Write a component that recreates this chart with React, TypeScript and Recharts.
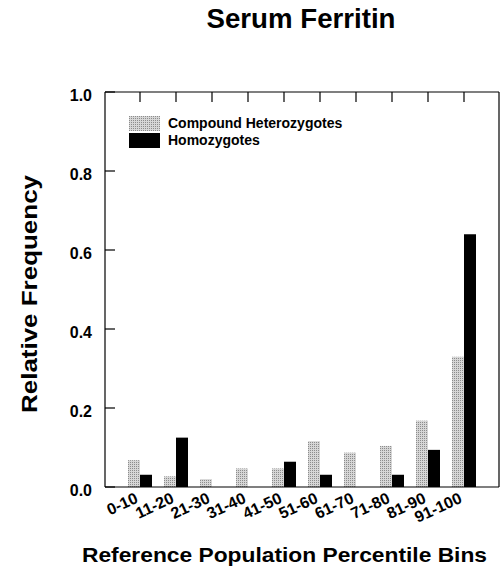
import { BarChart, Bar, XAxis, YAxis, Legend, Label } from "recharts";

const BINS = ["0-10", "11-20", "21-30", "31-40", "41-50", "51-60", "61-70", "71-80", "81-90", "91-100"];
const COMPOUND_HET = [0.068, 0.027, 0.02, 0.047, 0.047, 0.116, 0.087, 0.104, 0.168, 0.33];
const HOMOZYGOTES = [0.031, 0.125, 0, 0, 0.064, 0.031, 0, 0.031, 0.094, 0.64];
const Y_TICKS = [0, 0.2, 0.4, 0.6, 0.8, 1.0];

const TITLE = "Serum Ferritin";
const X_TITLE = "Reference Population Percentile Bins";
const Y_TITLE = "Relative Frequency";

const data = BINS.map((bin, i) => ({ bin, het: COMPOUND_HET[i], homo: HOMOZYGOTES[i] }));

const FONT = "'Liberation Sans', Arial, sans-serif";
const GREY = "url(#stipple)";

// left axis: label plus an inward tick
function YTick({ x, y, payload }: any) {
  return (
    <g>
      <line x1={x + 13} x2={x + 23} y1={y} y2={y} stroke="#000" strokeWidth={1.2} />
      <text x={x} y={y} dy={9} textAnchor="end" fontSize={16} fontWeight={700} fontFamily={FONT} fill="#000">
        {Number(payload.value).toFixed(1)}
      </text>
    </g>
  );
}

// right axis: inward tick only
function RightTick({ x, y }: any) {
  return <line x1={x - 11} x2={x} y1={y} y2={y} stroke="#000" strokeWidth={1.2} />;
}

// top axis: inward tick only
function TopTick({ x, y }: any) {
  return <line x1={x} x2={x} y1={y} y2={y + 10} stroke="#000" strokeWidth={1.2} />;
}

function XTick({ x, y, payload }: any) {
  const tx = x - 1;
  return (
    <text x={tx} y={y} textAnchor="end" transform={`rotate(-25 ${tx} ${y})`}
      fontSize={16} fontWeight={700} fontFamily={FONT} fill="#000">
      {payload.value}
    </text>
  );
}

function LegendBox({ payload }: any) {
  return (
    <div style={{ fontFamily: FONT, fontSize: 14, fontWeight: 700, color: "#000" }}>
      {(payload ?? []).map((p: any) => (
        <div key={p.value} style={{ display: "flex", alignItems: "center", height: 17 }}>
          <svg width={31} height={15} style={{ display: "block" }}>
            <rect width={31} height={15} fill={p.color} />
          </svg>
          <span style={{ marginLeft: 8, lineHeight: "17px" }}>{p.value}</span>
        </div>
      ))}
    </div>
  );
}

export default function App() {
  return (
    <div style={{ position: "absolute", left: 0, top: 0, background: "#fff" }}>
      <BarChart width={503} height={575} data={data} barGap={0} barSize={12}
        margin={{ top: 62, right: 0, bottom: 0, left: 0 }}>
        <defs>
          <pattern id="stipple" width={2} height={2} patternUnits="userSpaceOnUse">
            <rect width={2} height={2} fill="#d6d6d6" />
            <rect width={1} height={1} fill="#8c8c8c" />
          </pattern>
        </defs>

        <XAxis xAxisId="top" orientation="top" dataKey="bin" height={30} padding={{ left: 17, right: 17 }}
          interval={0} tick={<TopTick />} tickLine={false} tickSize={0} tickMargin={0}
          axisLine={{ stroke: "#000", strokeWidth: 1.2 }}>
          <Label content={() => (
            <text x={301} y={28} textAnchor="middle" fontSize={28} fontWeight={700} fontFamily={FONT}
              textLength={189} lengthAdjust="spacingAndGlyphs" fill="#000">{TITLE}</text>
          )} />
        </XAxis>
        <XAxis xAxisId="bottom" dataKey="bin" height={88} padding={{ left: 17, right: 17 }}
          tickLine={false} tickSize={6} tickMargin={9} interval={0} tick={<XTick />}
          axisLine={{ stroke: "#000", strokeWidth: 1.2 }}>
          <Label content={() => (
            <text x={284.5} y={562} textAnchor="middle" fontSize={21} fontWeight={700} fontFamily={FONT}
              textLength={405} lengthAdjust="spacingAndGlyphs" fill="#000">{X_TITLE}</text>
          )} />
        </XAxis>

        <YAxis yAxisId="left" width={105} domain={[0, 1]} ticks={Y_TICKS} tickSize={0} tickMargin={13}
          tickLine={false} tick={<YTick />} axisLine={{ stroke: "#000", strokeWidth: 1.2 }}>
          <Label content={() => (
            <text x={37} y={294} transform="rotate(-90 37 294)" textAnchor="middle" fontSize={22} fontWeight={700}
              fontFamily={FONT} textLength={238} lengthAdjust="spacingAndGlyphs" fill="#000">{Y_TITLE}</text>
          )} />
        </YAxis>
        <YAxis yAxisId="right" orientation="right" width={4} domain={[0, 1]} ticks={Y_TICKS} tickSize={0}
          tickMargin={0} tickLine={false} tick={<RightTick />} axisLine={{ stroke: "#000", strokeWidth: 1.2 }} />

        <Legend layout="vertical" align="center" verticalAlign="middle" content={<LegendBox />}
          wrapperStyle={{ left: 129, top: 115, width: 260, height: 36 }} />

        <Bar xAxisId="bottom" yAxisId="left" dataKey="het" name="Compound Heterozygotes" fill={GREY}
          isAnimationActive={false} />
        <Bar xAxisId="bottom" yAxisId="left" dataKey="homo" name="Homozygotes" fill="#000"
          isAnimationActive={false} />
      </BarChart>
    </div>
  );
}
